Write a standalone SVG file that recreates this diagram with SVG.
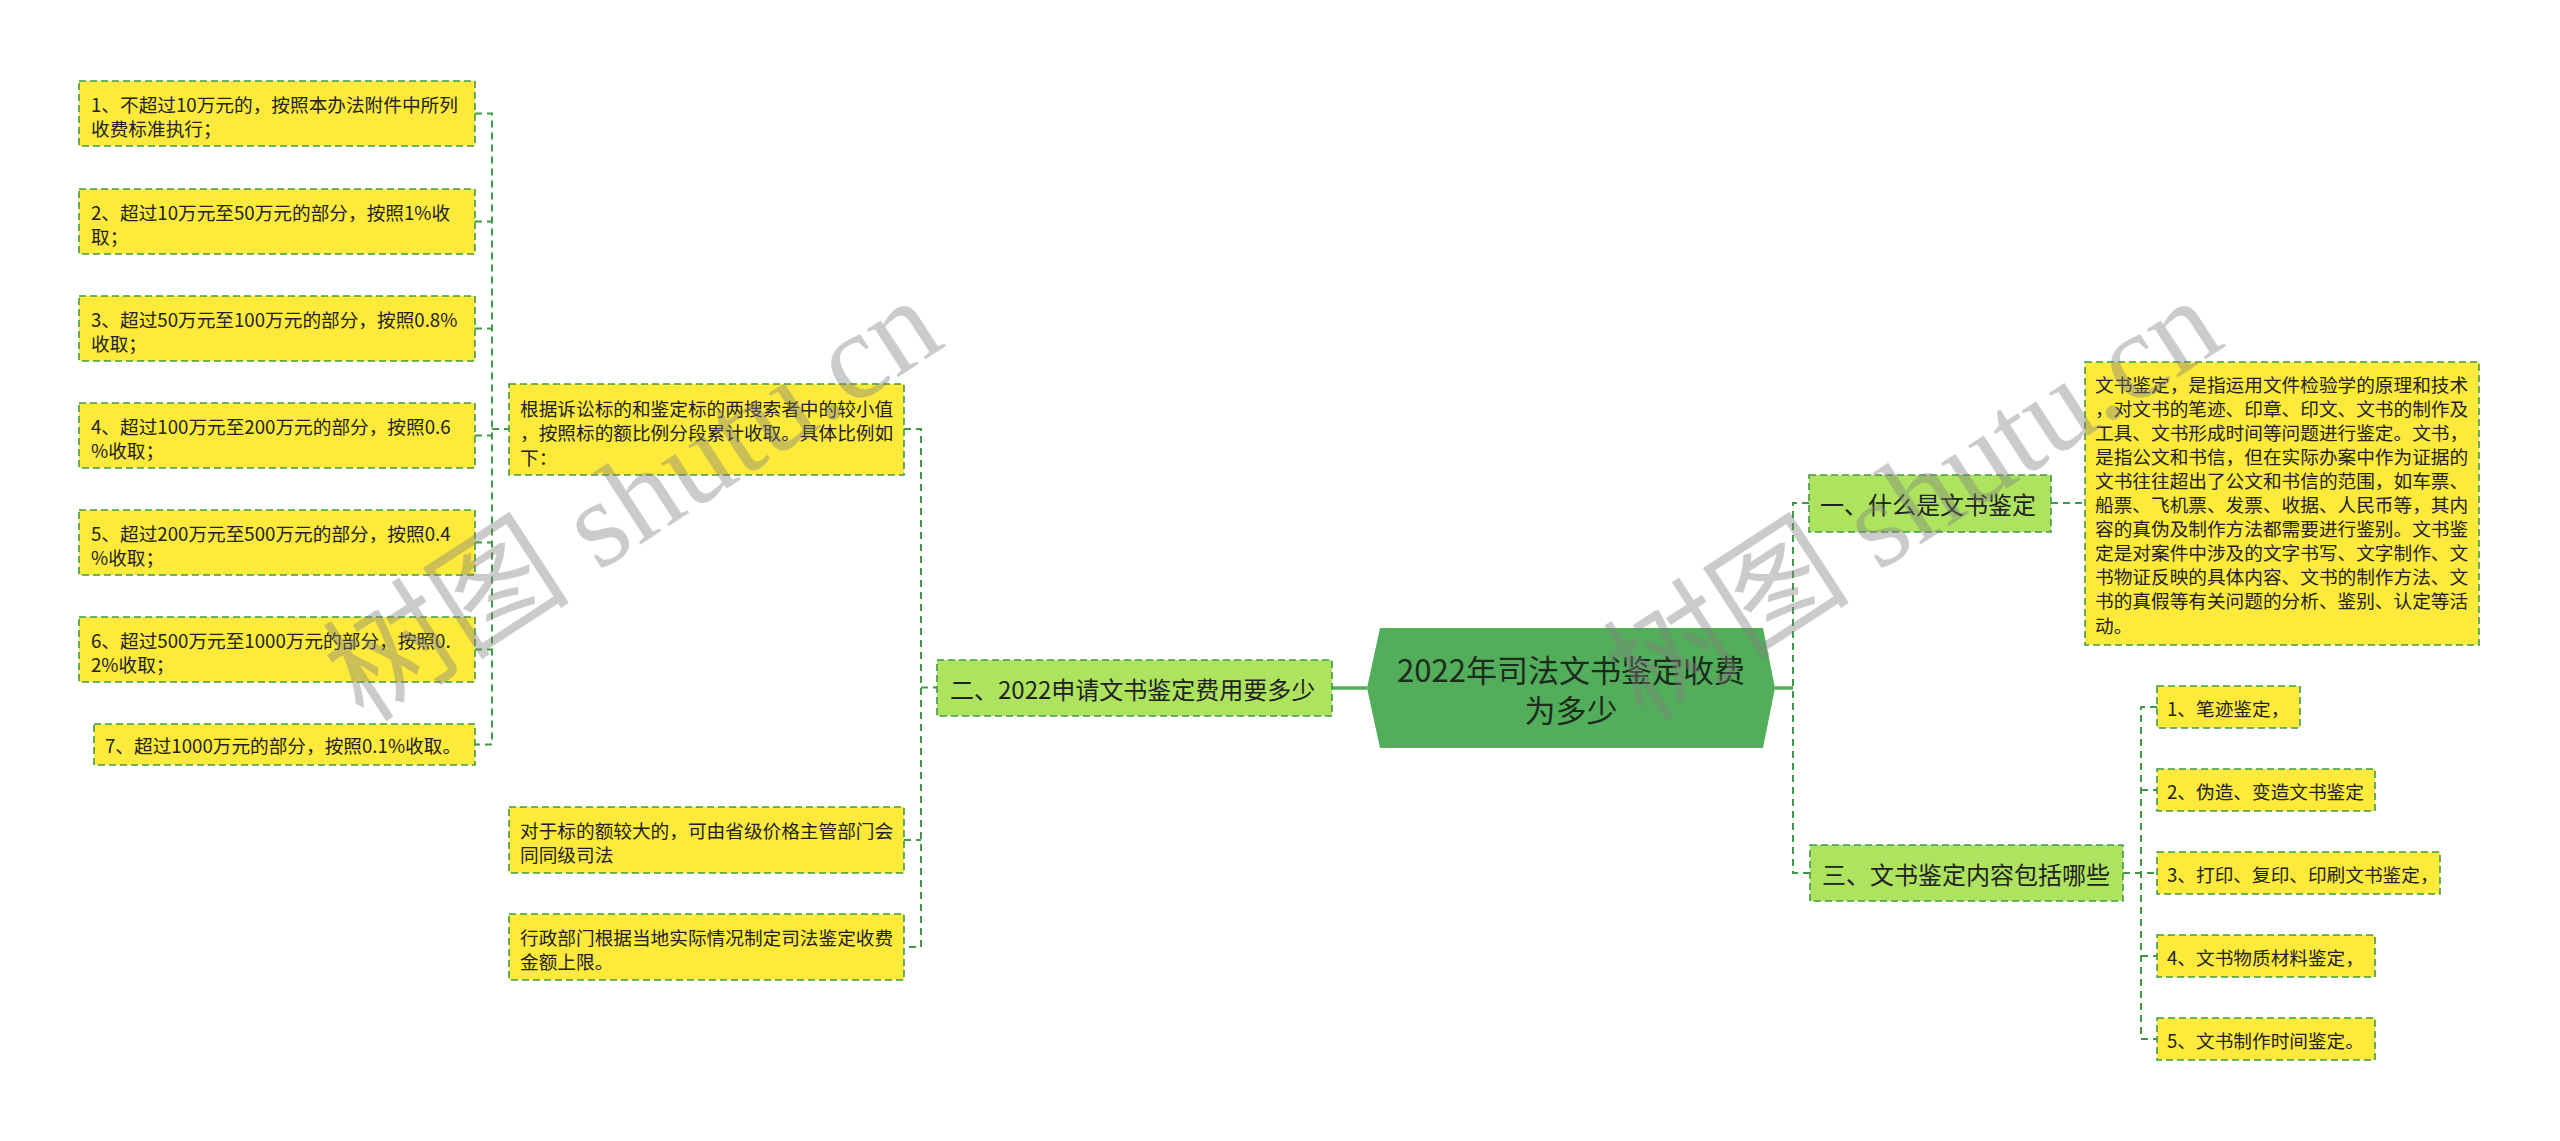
<svg xmlns="http://www.w3.org/2000/svg" width="2560" height="1141" viewBox="0 0 2560 1141">
<style>
.bx{fill:#fdea3b;stroke:#3f9a45;stroke-width:1.6;stroke-dasharray:7 4}
.l1{fill:#aee35f;stroke:#3f9a45;stroke-width:1.6;stroke-dasharray:7 4}
.t{font-family:"Noto Sans CJK SC","Microsoft YaHei",sans-serif;font-size:18.67px;fill:#222;dominant-baseline:central}
.t1{font-size:24px}
.tr{font-size:31px;fill:#1c2b1c;text-anchor:middle}
.c{fill:none;stroke:#3f9a45;stroke-width:2;stroke-dasharray:7 5}
.s{fill:none;stroke:#52ae5b;stroke-width:3.5}
.wm{font-family:"Liberation Serif","Noto Sans CJK SC",serif;font-size:124px;fill:#808080;opacity:0.4}
</style>
<rect width="2560" height="1141" fill="#ffffff"/>
<g id="connectors">
<path class="c" d="M475,113.5H492V744.5H475M475,221.5H492M475,328.5H492M475,435.5H492M475,542.5H492M475,649.5H492M492,429H509"/>
<path class="c" d="M904,429H921V947H904M904,840H921M921,687.5H937"/>
<path class="s" d="M1332,688H1367M1775,688H1793"/>
<path class="c" d="M1809,503H1793V873H1810"/>
<path class="c" d="M2051,503H2085"/>
<path class="c" d="M2123,873H2157M2157,707H2141V1039H2157M2141,790H2157M2141,956H2157"/>
</g>
<g id="root">
<polygon points="1380,628 1763,628 1775,688 1763,748 1380,748 1367,688" fill="#52ae5b"/>
<text class="t tr" x="1571" y="668">2022年司法文书鉴定收费</text>
<text class="t tr" x="1571" y="708">为多少</text>
</g>
<g id="n2">
<rect class="l1" x="937" y="660" width="395" height="56"/>
<text class="t t1" x="950" y="688">二、2022申请文书鉴定费用要多少</text>
</g>
<g id="n2a">
<rect class="bx" x="509" y="384" width="395" height="91"/>
<text class="t" x="520" y="407">根据诉讼标的和鉴定标的两搜索者中的较小值</text>
<text class="t" x="520" y="431.5">，按照标的额比例分段累计收取。具体比例如</text>
<text class="t" x="520" y="456">下：</text>
</g>
<g id="n2a1">
<rect class="bx" x="79" y="81" width="396" height="65"/>
<text class="t" x="91" y="103">1、不超过10万元的，按照本办法附件中所列</text>
<text class="t" x="91" y="127.5">收费标准执行；</text>
</g>
<g id="n2a2">
<rect class="bx" x="79" y="189" width="396" height="65"/>
<text class="t" x="91" y="211">2、超过10万元至50万元的部分，按照1%收</text>
<text class="t" x="91" y="235.5">取；</text>
</g>
<g id="n2a3">
<rect class="bx" x="79" y="296" width="396" height="65"/>
<text class="t" x="91" y="318">3、超过50万元至100万元的部分，按照0.8%</text>
<text class="t" x="91" y="342.5">收取；</text>
</g>
<g id="n2a4">
<rect class="bx" x="79" y="403" width="396" height="65"/>
<text class="t" x="91" y="425">4、超过100万元至200万元的部分，按照0.6</text>
<text class="t" x="91" y="449.5">%收取；</text>
</g>
<g id="n2a5">
<rect class="bx" x="79" y="510" width="396" height="65"/>
<text class="t" x="91" y="532">5、超过200万元至500万元的部分，按照0.4</text>
<text class="t" x="91" y="556.5">%收取；</text>
</g>
<g id="n2a6">
<rect class="bx" x="79" y="617" width="396" height="65"/>
<text class="t" x="91" y="639">6、超过500万元至1000万元的部分，按照0.</text>
<text class="t" x="91" y="663.5">2%收取；</text>
</g>
<g id="n2a7">
<rect class="bx" x="94" y="724" width="381" height="41"/>
<text class="t" x="105" y="744.5">7、超过1000万元的部分，按照0.1%收取。</text>
</g>
<g id="n2b">
<rect class="bx" x="509" y="807" width="395" height="66"/>
<text class="t" x="520" y="829">对于标的额较大的，可由省级价格主管部门会</text>
<text class="t" x="520" y="853.5">同同级司法</text>
</g>
<g id="n2c">
<rect class="bx" x="509" y="914" width="395" height="66"/>
<text class="t" x="520" y="936">行政部门根据当地实际情况制定司法鉴定收费</text>
<text class="t" x="520" y="960.5">金额上限。</text>
</g>
<g id="n1">
<rect class="l1" x="1809" y="475" width="242" height="57"/>
<text class="t t1" x="1820" y="503.5">一、什么是文书鉴定</text>
</g>
<g id="n1a">
<rect class="bx" x="2085" y="362" width="394" height="283"/>
<text class="t" x="2095" y="383">文书鉴定，是指运用文件检验学的原理和技术</text>
<text class="t" x="2095" y="407.1">，对文书的笔迹、印章、印文、文书的制作及</text>
<text class="t" x="2095" y="431.2">工具、文书形成时间等问题进行鉴定。文书，</text>
<text class="t" x="2095" y="455.3">是指公文和书信，但在实际办案中作为证据的</text>
<text class="t" x="2095" y="479.4">文书往往超出了公文和书信的范围，如车票、</text>
<text class="t" x="2095" y="503.5">船票、飞机票、发票、收据、人民币等，其内</text>
<text class="t" x="2095" y="527.6">容的真伪及制作方法都需要进行鉴别。文书鉴</text>
<text class="t" x="2095" y="551.7">定是对案件中涉及的文字书写、文字制作、文</text>
<text class="t" x="2095" y="575.8">书物证反映的具体内容、文书的制作方法、文</text>
<text class="t" x="2095" y="599.9">书的真假等有关问题的分析、鉴别、认定等活</text>
<text class="t" x="2095" y="624">动。</text>
</g>
<g id="n3">
<rect class="l1" x="1810" y="845" width="313" height="56"/>
<text class="t t1" x="1822" y="873">三、文书鉴定内容包括哪些</text>
</g>
<g id="n3a">
<rect class="bx" x="2157" y="686" width="143" height="42"/>
<text class="t" x="2167" y="707">1、笔迹鉴定，</text>
</g>
<g id="n3b">
<rect class="bx" x="2157" y="769" width="218" height="42"/>
<text class="t" x="2167" y="790">2、伪造、变造文书鉴定</text>
</g>
<g id="n3c">
<rect class="bx" x="2157" y="852" width="283" height="42"/>
<text class="t" x="2167" y="873">3、打印、复印、印刷文书鉴定，</text>
</g>
<g id="n3d">
<rect class="bx" x="2157" y="935" width="218" height="42"/>
<text class="t" x="2167" y="956">4、文书物质材料鉴定，</text>
</g>
<g id="n3e">
<rect class="bx" x="2157" y="1018" width="218" height="42"/>
<text class="t" x="2167" y="1039">5、文书制作时间鉴定。</text>
</g>
<g id="watermarks">
<text class="wm" transform="translate(364,724) rotate(-33)">树图 shutu.cn</text>
<text class="wm" transform="translate(1644,724) rotate(-33)">树图 shutu.cn</text>
</g>
</svg>
